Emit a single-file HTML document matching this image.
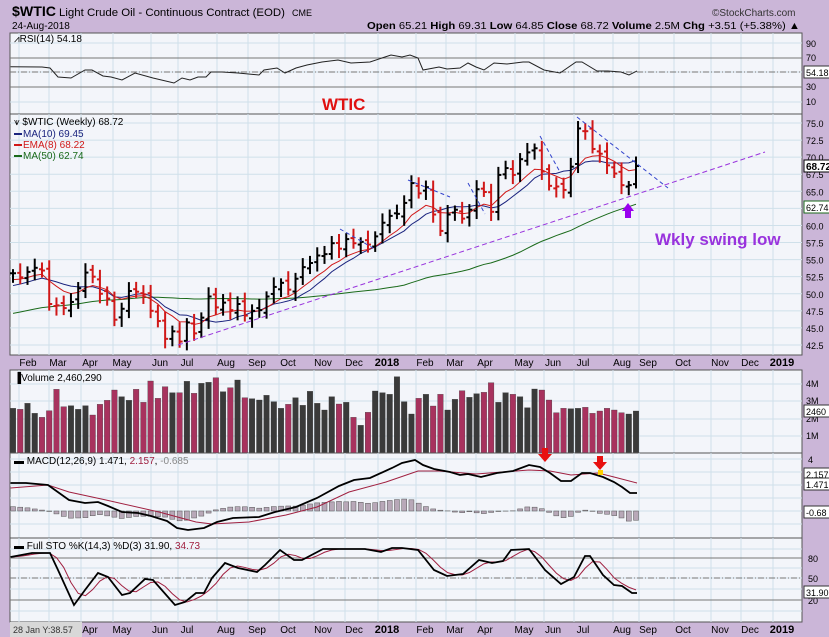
<!DOCTYPE html>
<html><head><meta charset="utf-8"><style>
body{margin:0;background:#cbb6d8;width:829px;height:637px;overflow:hidden}
svg{display:block;font-family:"Liberation Sans",Arial,sans-serif}
</style></head><body>
<svg id="s" width="829" height="637" xmlns="http://www.w3.org/2000/svg">
<rect width="829" height="637" fill="#cbb6d8"/>
<text x="12" y="16" font-size="14" font-weight="bold" fill="#000" textLength="44" lengthAdjust="spacingAndGlyphs">$WTIC</text>
<text x="59" y="16" font-size="11" fill="#000" textLength="226" lengthAdjust="spacingAndGlyphs">Light Crude Oil - Continuous Contract (EOD)</text>
<text x="292" y="16" font-size="9" fill="#000">CME</text>
<text x="712" y="16" font-size="10" fill="#333">©StockCharts.com</text>
<text x="12" y="29" font-size="10" fill="#000">24-Aug-2018</text>
<text x="367" y="29" font-size="10.5" fill="#000" textLength="433" lengthAdjust="spacingAndGlyphs"><tspan font-weight="bold">Open</tspan> 65.21 <tspan font-weight="bold">High</tspan> 69.31 <tspan font-weight="bold">Low</tspan> 64.85 <tspan font-weight="bold">Close</tspan> 68.72 <tspan font-weight="bold">Volume</tspan> 2.5M <tspan font-weight="bold">Chg</tspan> +3.51 (+5.38%) ▲</text>
<g id="g"></g>
</svg>
<script>
const S=document.getElementById('g');let h='';
const L=10,R=802;
const months=[[28,'Feb'],[58,'Mar'],[90,'Apr'],[122,'May'],[160,'Jun'],[187,'Jul'],[226,'Aug'],[257,'Sep'],[288,'Oct'],[323,'Nov'],[354,'Dec'],[387,'2018',1],[425,'Feb'],[455,'Mar'],[485,'Apr'],[524,'May'],[553,'Jun'],[583,'Jul'],[622,'Aug'],[648,'Sep'],[683,'Oct'],[720,'Nov'],[750,'Dec'],[782,'2019',1]];
function panel(t,b,hl){h+=`<rect x="${L}" y="${t}" width="${R-L}" height="${b-t}" fill="#f3f5fa" stroke="#555" stroke-width="1"/>`;
 months.forEach(m=>h+=`<line x1="${m[0]-9}" x2="${m[0]-9}" y1="${t}" y2="${b}" stroke="#cfe0ea"/>`);
 hl.forEach(y=>h+=`<line x1="${L}" x2="${R}" y1="${y}" y2="${y}" stroke="#cfe0ea"/>`);}
function lab(x,y,t,c,s){h+=`<text x="${x}" y="${y}" font-size="${s||10}" fill="${c||'#000'}">${t}</text>`}
function poly(p,c,w,d){h+=`<polyline fill="none" stroke="${c}" stroke-width="${w||1}" ${d?'stroke-dasharray="'+d+'"':''} points="${p.map(q=>q.join(',')).join(' ')}"/>`}
// RSI
panel(33,114,[43,58,72,87,102]);
h+=`<line x1="${L}" x2="${R}" y1="58" y2="58" stroke="#777"/><line x1="${L}" x2="${R}" y1="87" y2="87" stroke="#777"/><line x1="${L}" x2="${R}" y1="72" y2="72" stroke="#777" stroke-dasharray="6,2,1,2"/>`;
poly([[10.6,66.7],[42,67],[50,68],[58,77],[71,78],[85,70],[92,70],[103,76],[111,77],[122,80],[135,73],[153,78],[174,83],[182,78],[190,80],[198,77],[206,77],[211,72],[222,72],[238,73],[259,75],[264,70],[277,68],[285,73],[296,68],[307,65],[322,62],[338,60],[351,63],[370,62],[391,55],[402,57],[410,55],[418,58],[423,70],[439,67],[447,69],[460,68],[468,63],[476,67],[484,70],[494,63],[507,64],[523,62],[529,62],[544,70],[560,73],[576,62],[582,62],[597,71],[608,71],[621,72],[629,75],[637,71]],'#222',1);
lab(14,42,'⩘RSI(14) 54.18','#000',10);
[[90,47],[70,61],[30,90],[10,105]].forEach(a=>lab(806,a[1],a[0],'#000',9));
h+=`<rect x="804" y="66" width="26" height="12" fill="#fff" stroke="#333"/>`;lab(806,76,'54.18','#000',9);
h+=`<text x="322" y="110" font-size="17" font-weight="bold" fill="#e01010">WTIC</text>`;
// Price
const T=114,B=355;panel(T,B,[]);
const py=p=>123+(75-p)*6.83;
for(let p=42.5;p<=75;p+=2.5){h+=`<line x1="${L}" x2="${R}" y1="${py(p)}" y2="${py(p)}" stroke="#cfe0ea"/>`;lab(806,py(p)+4,p.toFixed(1),'#000',9)}
const C=[53.0,52.4,53.2,53.8,53.4,48.5,48.3,47.9,48.8,50.8,53.1,52.5,50.0,49.3,46.2,47.8,50.4,50.3,49.9,47.5,46.0,43.4,44.5,43.0,45.8,44.2,46.5,49.6,48.0,48.7,47.6,48.5,46.8,47.5,47.6,49.6,51.0,51.6,50.6,52.2,53.9,54.5,55.6,55.8,57.4,56.6,58.0,57.4,57.6,57.2,58.4,60.4,61.4,61.7,63.3,66.2,64.7,65.6,61.6,59.2,61.6,62.3,61.0,62.3,65.3,64.9,62.0,67.4,68.4,67.4,69.7,70.7,71.3,67.9,65.8,65.7,65.2,68.6,74.2,73.8,71.2,70.5,68.8,67.6,65.9,65.9,68.7];
const n=C.length,dx=(636-13)/(n-1),X=i=>13+i*dx;
const pre=[];for(let i=0;i<50;i++)pre.push(42+i*0.2);
const A=pre.concat(C);
const ma=(k,i)=>{let s=0;for(let j=0;j<k;j++)s+=A[i-j];return s/k};
let e=A[49],m10=[],e8=[],m50=[];
for(let i=50;i<A.length;i++){e=e+(A[i]-e)*2/9;e8.push([X(i-50),py(e)]);m10.push([X(i-50),py(ma(10,i))]);m50.push([X(i-50),py(ma(50,i))])}
poly(m50,'#1a6a1a',1);poly(m10,'#1a237e',1);poly(e8,'#d01818',1);
const col=[];
for(let i=0;i<n;i++){const o=i?C[i-1]+(Math.sin(i*3)*0.4):C[0];const c=C[i];const hi=Math.max(o,c)+0.6+Math.abs(Math.sin(i*1.7))*0.8,lo=Math.min(o,c)-0.6-Math.abs(Math.cos(i*2.1))*0.8;
 const cl=(i&&c<C[i-1])?'#d01818':'#000';col.push(cl);const x=X(i);
 h+=`<g stroke="${cl}" stroke-width="2"><line x1="${x}" x2="${x}" y1="${py(hi)}" y2="${py(lo)}"/><line x1="${x-3}" x2="${x}" y1="${py(o)}" y2="${py(o)}"/><line x1="${x}" x2="${x+3}" y1="${py(c)}" y2="${py(c)}"/></g>`}
poly([[178,345],[765,152]],'#9933dd',1,'5,3');
[[[340,229],[373,248]],[[408,180],[450,197]],[[468,183],[485,214]],[[540,136],[560,172]],[[577,117],[668,188]]].forEach(p=>poly(p,'#3344cc',1,'4,3'));
lab(14,125,'⩛ $WTIC (Weekly) 68.72','#000',10);
h+=`<line x1="14" x2="22" y1="134" y2="134" stroke="#1a237e" stroke-width="2"/><line x1="14" x2="22" y1="145" y2="145" stroke="#d01818" stroke-width="2"/><line x1="14" x2="22" y1="156" y2="156" stroke="#1a6a1a" stroke-width="2"/>`;
lab(23,137,'MA(10) 69.45','#1a237e',10);lab(23,148,'EMA(8) 68.22','#d01818',10);lab(23,159,'MA(50) 62.74','#1a6a1a',10);
h+=`<rect x="804" y="160" width="26" height="12" fill="#fff" stroke="#000"/>`;h+=`<text x="806" y="170" font-size="10" font-weight="bold">68.72</text>`;
h+=`<rect x="804" y="201" width="26" height="12" fill="#fff" stroke="#1a6a1a"/>`;lab(806,211,'62.74','#000',9);
h+=`<polygon points="622,211 628,203 634,211 631,211 631,218 625,218 625,211" fill="#9900ee"/>`;
h+=`<text x="655" y="245" font-size="17" font-weight="bold" fill="#9933dd">Wkly swing low</text>`;
function axis(y){months.forEach(m=>{h+=`<text x="${m[0]}" y="${y}" font-size="${m[2]?11:10}" ${m[2]?'font-weight="bold"':''} text-anchor="middle">${m[1]}</text>`})}
axis(366);
// Volume
panel(370,453,[384,401,419,436]);
const vt=[205,208,190,220,232,212,148,200,197,208,197,225,193,181,150,170,181,148,187,123,175,140,158,158,124,160,130,127,113,155,143,120,173,176,180,166,185,205,193,173,196,154,190,210,170,192,187,232,256,217,153,158,163,110,185,222,175,163,198,163,210,178,152,172,161,157,128,187,158,163,170,203,147,150,180,218,205,206,205,202,220,213,205,210,218,222,213];
for(let i=0;i<n;i++){const y=340+vt[i%vt.length]/3;h+=`<rect x="${X(i)-2.8}" y="${y}" width="5.6" height="${453-y}" fill="${col[i]=='#000'?'#3a3a3a':'#a8325e'}" stroke="#333" stroke-width=".3"/>`}
lab(14,381,'▐Volume 2,460,290','#000',10);
[['4M',387],['3M',404],['2M',422],['1M',439]].forEach(a=>lab(806,a[1],a[0],'#000',9));
h+=`<rect x="804" y="405" width="26" height="12" fill="#fff" stroke="#333"/>`;lab(806,415,'2460','#000',9);
// MACD
panel(453,538,[459,472,485,498,511,524]);
const mk=[[10.6,483],[26,483],[48,485],[69,500],[85,503],[98,502],[108,506],[122,512],[138,513],[151,516],[167,521],[177,528],[188,530],[204,528],[217,522],[233,518],[259,517],[275,512],[296,507],[317,498],[339,486],[354,480],[370,478],[392,468],[402,463],[415,460],[423,465],[434,469],[450,472],[460,475],[468,474],[481,477],[497,473],[513,471],[529,465],[540,467],[550,473],[561,481],[571,481],[582,473],[590,473],[603,477],[614,482],[622,487],[630,493],[637,493]];
const sg=[[10.6,488],[48,485],[69,492],[106,500],[159,512],[196,522],[212,524],[249,522],[286,515],[317,507],[349,492],[386,482],[418,471],[439,471],[476,474],[529,470],[550,471],[571,475],[598,473],[614,477],[637,483]];
const ip=(a,x)=>{for(let i=1;i<a.length;i++)if(x<=a[i][0]){const t=(x-a[i-1][0])/(a[i][0]-a[i-1][0]);return a[i-1][1]+t*(a[i][1]-a[i-1][1])}return a[a.length-1][1]};
for(let i=0;i<n;i++){const x=X(i),d=(ip(sg,x)-ip(mk,x))*0.9;const y=d>0?511-d:511;h+=`<rect x="${x-2.5}" y="${y}" width="5" height="${Math.abs(d)}" fill="#b8a8b8" stroke="#555" stroke-width=".5"/>`}
poly(sg,'#a02040',1);poly(mk,'#000',1.8);
lab(14,464,'▬ MACD(12,26,9) 1.471, <tspan fill="#a02040">2.157</tspan>, <tspan fill="#888">-0.685</tspan>','#000',10);
[['4',463],['3',476],['0',515]].forEach(a=>lab(808,a[1],a[0],'#000',9));
[['2.157',478],['1.471',488],['-0.68',516]].forEach(a=>{h+=`<rect x="804" y="${a[1]-10}" width="26" height="12" fill="#fff" stroke="#333"/>`;lab(806,a[1],a[0],'#000',9)});
function arrow(x,y){h+=`<polygon points="${x-3},${y} ${x+3},${y} ${x+3},${y+6} ${x+7},${y+6} ${x},${y+14} ${x-7},${y+6} ${x-3},${y+6}" fill="#e81010"/>`}
arrow(545,448);arrow(600,456);h+=`<rect x="598" y="470" width="5" height="5" fill="#ffd000"/>`;
// STO
panel(538,622,[549,558,568,578,589,600,611]);
h+=`<line x1="${L}" x2="${R}" y1="558" y2="558" stroke="#777"/><line x1="${L}" x2="${R}" y1="600" y2="600" stroke="#777"/><line x1="${L}" x2="${R}" y1="578" y2="578" stroke="#777" stroke-dasharray="6,2,1,2"/>`;
const sk=[[10.6,557],[32,553],[50,553],[58,570],[74,605],[85,590],[98,573],[108,577],[122,595],[130,593],[145,579],[153,580],[175,605],[185,602],[196,593],[204,593],[212,578],[225,563],[238,568],[257,572],[265,565],[280,550],[294,560],[302,560],[323,549],[344,549],[365,549],[381,552],[392,548],[402,548],[418,550],[434,570],[447,576],[463,574],[479,560],[492,563],[503,561],[511,550],[529,549],[545,570],[561,584],[574,577],[585,556],[590,556],[603,575],[614,585],[622,586],[632,593],[637,593]];
const sd=[];for(let i=0;i<n;i++){const x=X(i);let s=0;for(let j=0;j<3;j++)s+=ip(sk,Math.max(10.6,x-j*dx));sd.push([x,s/3])}
poly(sd,'#a02040',1);poly(sk,'#000',1.8);
lab(14,549,'▬ Full STO %K(14,3) %D(3) 31.90, <tspan fill="#a02040">34.73</tspan>','#000',10);
[['80',562],['50',582],['20',604]].forEach(a=>lab(808,a[1],a[0],'#000',9));
h+=`<rect x="804" y="586" width="26" height="12" fill="#fff" stroke="#333"/>`;lab(806,596,'31.90','#000',9);
axis(633);
h+=`<rect x="10" y="622" width="72" height="15" fill="#d8d8d8"/>`;lab(13,633,'28 Jan Y:38.57','#333',9);
S.innerHTML=h;
</script>
</body></html>
